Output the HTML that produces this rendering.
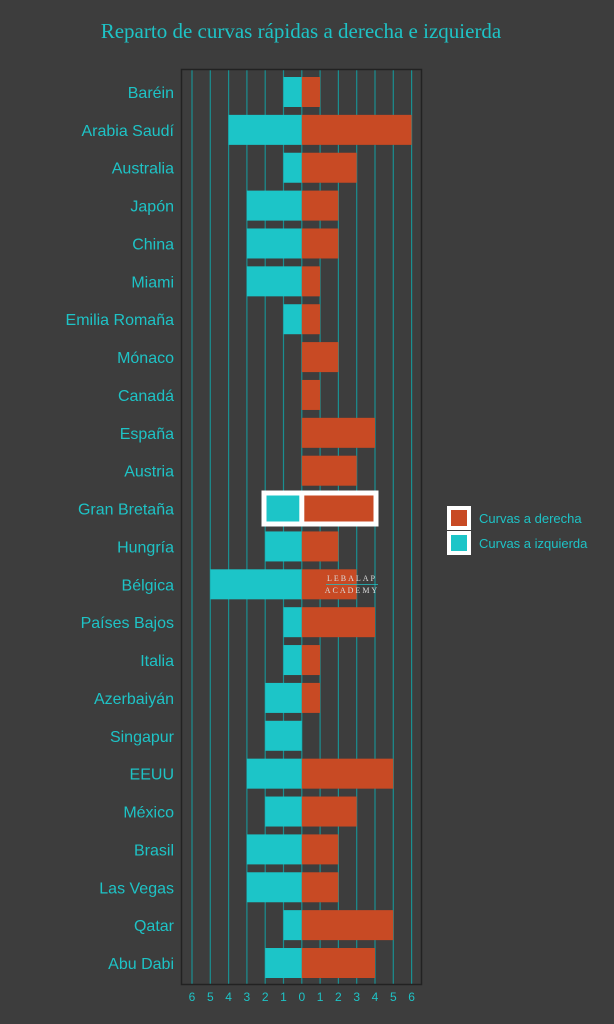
<!DOCTYPE html>
<html><head><meta charset="utf-8"><style>
html,body{margin:0;padding:0;background:#3d3d3d;}
svg{display:block;}
text{font-family:"Liberation Sans",sans-serif;fill:#1ec3c6;}
</style></head><body>
<svg width="614" height="1024" viewBox="0 0 614 1024" xmlns="http://www.w3.org/2000/svg">
<rect width="614" height="1024" fill="#3d3d3d"/>
<text x="301" y="38" text-anchor="middle" font-size="21" style="font-family:'Liberation Serif',serif">Reparto de curvas rápidas a derecha e izquierda</text>
<g id="grid" stroke="#1a8f91" stroke-width="1.2">
<script>/* static */</script>
</g>
<g stroke="#1a8f91" stroke-width="1.2">
<line x1="192" y1="69" x2="192" y2="985"/><line x1="210.3" y1="69" x2="210.3" y2="985"/><line x1="228.6" y1="69" x2="228.6" y2="985"/><line x1="246.9" y1="69" x2="246.9" y2="985"/><line x1="265.2" y1="69" x2="265.2" y2="985"/><line x1="283.5" y1="69" x2="283.5" y2="985"/><line x1="301.8" y1="69" x2="301.8" y2="985"/><line x1="320.1" y1="69" x2="320.1" y2="985"/><line x1="338.4" y1="69" x2="338.4" y2="985"/><line x1="356.7" y1="69" x2="356.7" y2="985"/><line x1="375" y1="69" x2="375" y2="985"/><line x1="393.3" y1="69" x2="393.3" y2="985"/><line x1="411.6" y1="69" x2="411.6" y2="985"/>
</g>
<rect x="181.5" y="69.5" width="240" height="915" fill="none" stroke="#222" stroke-width="1.5"/>
<g id="bars"></g>
<g font-size="16" text-anchor="end" id="labels"></g>
<g font-size="12" text-anchor="middle">
<text x="192" y="1001">6</text><text x="210.3" y="1001">5</text><text x="228.6" y="1001">4</text><text x="246.9" y="1001">3</text><text x="265.2" y="1001">2</text><text x="283.5" y="1001">1</text><text x="301.8" y="1001">0</text><text x="320.1" y="1001">1</text><text x="338.4" y="1001">2</text><text x="356.7" y="1001">3</text><text x="375" y="1001">4</text><text x="393.3" y="1001">5</text><text x="411.6" y="1001">6</text>
</g>
<g>
<rect x="264" y="493" width="112" height="31" fill="none" stroke="#fff" stroke-width="5"/>
<line x1="301.8" y1="493" x2="301.8" y2="524" stroke="#fff" stroke-width="5"/>
</g>
<g font-size="8" text-anchor="middle" style="letter-spacing:2px">
<text x="352" y="581" style="fill:#ddd;font-family:'Liberation Serif',serif">LEBALAP</text>
<line x1="326" y1="584.5" x2="378" y2="584.5" stroke="#1ec3c6" stroke-width="0.8"/>
<text x="352" y="593" style="fill:#ddd;font-family:'Liberation Serif',serif">ACADEMY</text>
</g>
<rect x="449" y="508" width="20" height="20" fill="#c84a24" stroke="#fff" stroke-width="4"/>
<rect x="449" y="533" width="20" height="20" fill="#1cc5c8" stroke="#fff" stroke-width="4"/>
<text x="479" y="523" font-size="13">Curvas a derecha</text>
<text x="479" y="548" font-size="13">Curvas a izquierda</text>
</svg>
<script>
var d=[["Baréin",1,1],["Arabia Saudí",4,6],["Australia",1,3],["Japón",3,2],["China",3,2],["Miami",3,1],["Emilia Romaña",1,1],["Mónaco",0,2],["Canadá",0,1],["España",0,4],["Austria",0,3],["Gran Bretaña",2,4],["Hungría",2,2],["Bélgica",5,3],["Países Bajos",1,4],["Italia",1,1],["Azerbaiyán",2,1],["Singapur",2,0],["EEUU",3,5],["México",2,3],["Brasil",3,2],["Las Vegas",3,2],["Qatar",1,5],["Abu Dabi",2,4]];
var ns="http://www.w3.org/2000/svg",b=document.getElementById("bars"),l=document.getElementById("labels"),u=18.3,z=301.8;
d.forEach(function(r,i){var cy=92+i*37.87;
function R(x,w,c){if(w<=0)return;var e=document.createElementNS(ns,"rect");e.setAttribute("x",x);e.setAttribute("y",cy-15);e.setAttribute("width",w);e.setAttribute("height",30);e.setAttribute("fill",c);b.appendChild(e);}
R(z-r[1]*u,r[1]*u,"#1cc5c8");R(z,r[2]*u,"#c84a24");
var t=document.createElementNS(ns,"text");t.setAttribute("x",174);t.setAttribute("y",cy+6);t.textContent=r[0];l.appendChild(t);});
</script>
</body></html>
